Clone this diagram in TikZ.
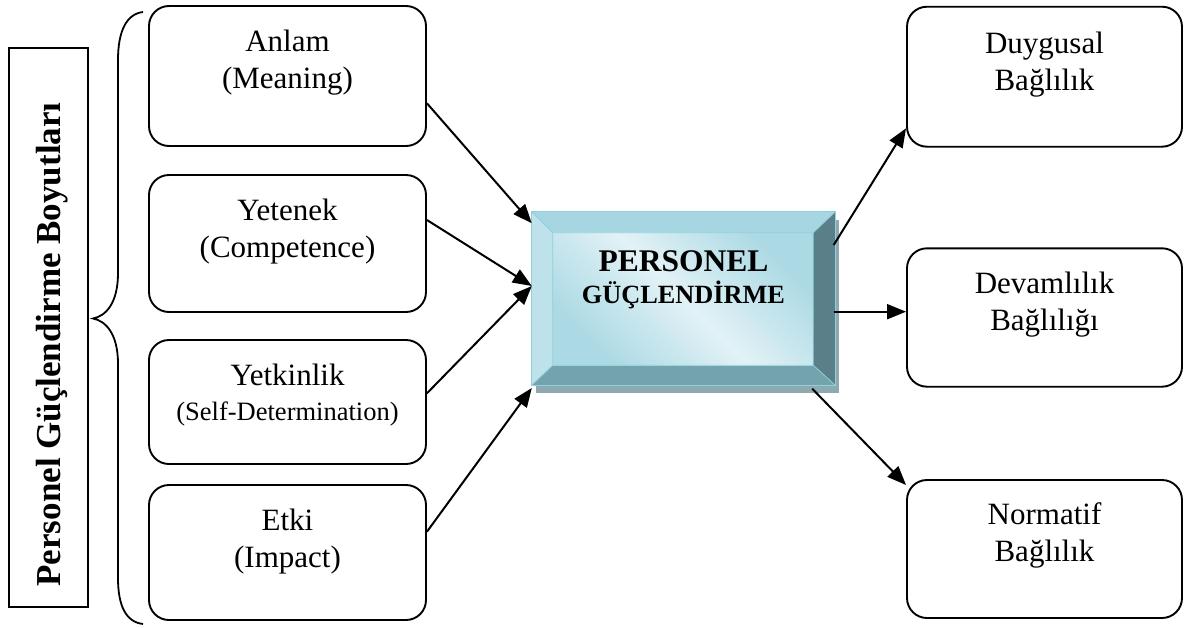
\documentclass[tikz,border=0pt]{standalone}
\usepackage{fontspec}
\setmainfont{Liberation Serif}
\usetikzlibrary{arrows.meta,calc}

\definecolor{bevelTop}{HTML}{A6D6E1}
\definecolor{bevelLeft}{HTML}{BEE2EA}
\definecolor{bevelRight}{HTML}{5B7F88}
\definecolor{bevelBottom}{HTML}{73A3AD}
\definecolor{bevelEdge}{HTML}{90CEDB}
\definecolor{faceLight}{HTML}{E2F2F6}
\definecolor{faceDark}{HTML}{ABD9E4}
\definecolor{dropShadow}{HTML}{8FA9B1}

\begin{document}
\begin{tikzpicture}[x=1pt,y=-1pt,
  dimbox/.style={draw, line width=1.9pt, rounded corners=20pt,
    minimum width=277pt, inner sep=0pt},
  outbox/.style={dimbox, minimum width=275pt},
  lbl/.style={anchor=base, align=center, inner sep=0pt,
    font=\fontsize{31}{37}\selectfont},
  link/.style={line width=2pt, -{Triangle[length=19pt,width=15pt]}},
]
\useasboundingbox (0,0) rectangle (1184,627);

% side label with its brace
\node[draw, line width=1.8pt, minimum width=79pt, minimum height=559pt,
  inner sep=0pt] (sidebox) at (48.8,327.2) {};
\node[anchor=base, rotate=90, inner sep=0pt,
  font=\bfseries\fontsize{35}{42}\selectfont] (sidetext) at (60.5,344.5)
  {Personel Güçlendirme Boyutları};
\draw[line width=1.8pt] (143,12) .. controls (126,14) and (118,32) .. (118,60)
  -- (118,273) .. controls (118,303) and (106,316) .. (93,318.5)
  .. controls (106,321) and (118,334) .. (118,364)
  -- (118,578) .. controls (118,606) and (126,622) .. (143,624);

% dimension boxes
\node[dimbox, minimum height=140pt] (boxA) at (287.5,76) {};
\node[dimbox, minimum height=137pt] (boxB) at (287.5,243.5) {};
\node[dimbox, minimum height=124pt] (boxC) at (287.5,402) {};
\node[dimbox, minimum height=135pt] (boxD) at (287.5,552.5) {};

% the base anchor of a two-line label sits on its last line
\node[lbl] (tA) at (287.5,88.7) {Anlam\\(Meaning)};
\node[lbl] (tB) at (287.5,257.3) {Yetenek\\(Competence)};
\node[lbl, font=\fontsize{31}{35}\selectfont] (tC) at (287.5,420)
  {Yetkinlik\\{\fontsize{26.5}{35}\selectfont(Self-Determination)}};
\node[lbl] (tD) at (287.5,567.7) {Etki\\(Impact)};

% outcome boxes
\node[outbox, minimum height=140pt] (boxE) at (1044.5,76.7) {};
\node[outbox, minimum height=138.4pt] (boxF) at (1044.5,317.5) {};
\node[outbox, minimum height=138pt] (boxG) at (1044.5,549) {};

\node[lbl] (tE) at (1044.5,90) {Duygusal\\Bağlılık};
\node[lbl] (tF) at (1044.5,330) {Devamlılık\\Bağlılığı};
\node[lbl] (tG) at (1044.5,561.7) {Normatif\\Bağlılık};

% central bevelled box
\node[minimum width=303pt, minimum height=173pt, inner sep=0pt] (core)
  at (683.5,298.5) {};
\coordinate (NW) at (core.north west);
\coordinate (NE) at (core.north east);
\coordinate (SE) at (core.south east);
\coordinate (SW) at (core.south west);
\coordinate (nw) at ($(NW)+(21,21)$);
\coordinate (ne) at ($(NE)+(-22,21)$);
\coordinate (se) at ($(SE)+(-22,-20)$);
\coordinate (sw) at ($(SW)+(21,-20)$);

\fill[dropShadow] ($(NW)+(4,8)$) rectangle ($(SE)+(4,8)$);
\fill[bevelTop] (NW) -- (NE) -- (ne) -- (nw) -- cycle;
\fill[bevelLeft] (NW) -- (nw) -- (sw) -- (SW) -- cycle;
\fill[bevelRight] (NE) -- (SE) -- (se) -- (ne) -- cycle;
\fill[bevelBottom] (SW) -- (sw) -- (se) -- (SE) -- cycle;
\shade[top color=faceDark, bottom color=faceDark, middle color=faceLight,
  shading angle=-45] (nw) rectangle (se);
\draw[bevelEdge, line width=1pt] (NW) rectangle (SE);
\draw[bevelEdge, line width=0.8pt] (nw) rectangle (se)
  (NW) -- (nw) (NE) -- (ne) (SE) -- (se) (SW) -- (sw);

\node[anchor=base, inner sep=0pt, font=\bfseries\fontsize{31.5}{36}\selectfont]
  (coreA) at (683.5,271.7) {PERSONEL};
\node[anchor=base, inner sep=0pt, font=\bfseries\fontsize{26.3}{32}\selectfont]
  (coreB) at (683.5,303.3) {GÜÇLENDİRME};

% connectors
\coordinate (inAB) at ($(core.west)+(0,-12.5)$);
\draw[link] ($(boxA.east)+(0,27.3)$) -- ($(core.west)+(0,-75.2)$);
\draw[link] ($(boxB.east)+(0,-23.5)$) -- (inAB);
\draw[link] ($(boxC.east)+(0,-8.7)$) -- (inAB);
\draw[link] ($(boxD.east)+(0,-20.8)$) -- ($(core.west)+(0,89.5)$);

\draw[link] ($(core.east)+(-1.5,-53.5)$) -- ($(boxE.west)+(0,51.6)$);
\draw[link] ($(core.east)+(-1.5,13.2)$) -- ($(boxF.west)+(0,-5.8)$);
\draw[link] ($(core.south east)+(-23,3.5)$) -- ($(boxG.west)+(0,-64)$);
\end{tikzpicture}
\end{document}
